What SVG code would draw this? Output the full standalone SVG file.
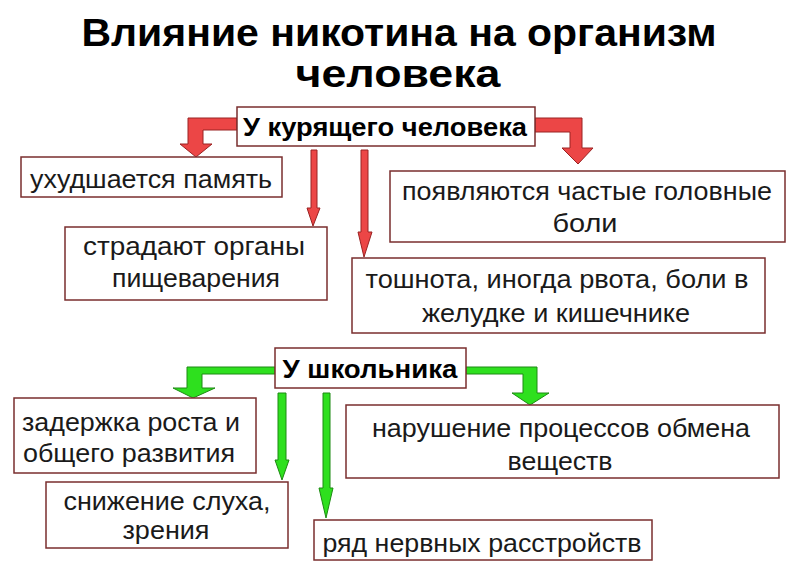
<svg xmlns="http://www.w3.org/2000/svg" width="800" height="574" viewBox="0 0 800 574">
<style>
.box{fill:#ffffff;stroke:#7a2e2e;stroke-width:1.5}
.t{font-family:"Liberation Sans",Arial,sans-serif;font-size:26px;fill:#1a1a1a;text-anchor:middle}
.h{font-family:"Liberation Sans",Arial,sans-serif;font-size:26px;font-weight:bold;fill:#000;text-anchor:middle}
.title{font-family:"Liberation Sans Narrow","Liberation Sans",Arial,sans-serif;font-size:38px;font-weight:bold;fill:#000;text-anchor:middle}
.red{fill:#ec4646;stroke:#9a2222;stroke-width:1}
.green{fill:#2ee01e;stroke:#1d8a12;stroke-width:1}
</style>
<rect width="800" height="574" fill="#ffffff"/>
<g id="title">
<text class="title" x="399" y="46" textLength="635" lengthAdjust="spacingAndGlyphs">Влияние никотина на организм</text>
<text class="title" x="398" y="87" textLength="205" lengthAdjust="spacingAndGlyphs">человека</text>
</g>
<g id="connectors">
<path class="red" d="M237,118 H188 V144 H180 L196,157 L212,144 H203 V130 H237 Z"/>
<path class="red" d="M535,118 H582 V148 H593 L578,164 L562,148 H570 V132 H535 Z"/>
<path class="red" d="M311,150 H317 V208 H320 L313,226 L307,208 H311 Z"/>
<path class="red" d="M361,150 H368 V232 H372 L364,257 L358,232 H361 Z"/>
<path class="green" d="M275,367 H187 V388 H173 L193,398 L215,388 H202 V374 H275 Z"/>
<path class="green" d="M466,367 H537 V393 H549 L530,405 L512,393 H523 V374 H466 Z"/>
<path class="green" d="M278,393 H286 V460 H289 L282,480 L275,460 H278 Z"/>
<path class="green" d="M323,393 H330 V488 H333 L326,518 L319,488 H323 Z"/>
</g>
<g id="smoker">
<rect class="box" x="237" y="107" width="298" height="39"/>
<text class="h" x="385" y="136" textLength="284" lengthAdjust="spacingAndGlyphs">У курящего человека</text>
</g>
<g id="memory">
<rect class="box" x="21" y="157" width="261" height="40"/>
<text class="t" x="151" y="188" textLength="242" lengthAdjust="spacingAndGlyphs">ухудшается память</text>
</g>
<g id="digestion">
<rect class="box" x="65" y="227" width="262" height="73"/>
<text class="t" x="194" y="255" textLength="222" lengthAdjust="spacingAndGlyphs">страдают  органы</text>
<text class="t" x="196" y="287" textLength="168" lengthAdjust="spacingAndGlyphs">пищеварения</text>
</g>
<g id="headache">
<rect class="box" x="390" y="171" width="395" height="71"/>
<text class="t" x="587" y="200" textLength="370" lengthAdjust="spacingAndGlyphs">появляются частые головные</text>
<text class="t" x="585" y="232" textLength="65" lengthAdjust="spacingAndGlyphs">боли</text>
</g>
<g id="nausea">
<rect class="box" x="352" y="258" width="413" height="75"/>
<text class="t" x="557" y="288" textLength="383" lengthAdjust="spacingAndGlyphs">тошнота, иногда рвота, боли в</text>
<text class="t" x="556" y="322" textLength="268" lengthAdjust="spacingAndGlyphs">желудке и кишечнике</text>
</g>
<g id="schoolchild">
<rect class="box" x="275" y="348" width="191" height="40"/>
<text class="h" x="370" y="378" textLength="175" lengthAdjust="spacingAndGlyphs">У школьника</text>
</g>
<g id="growth">
<rect class="box" x="14" y="398" width="242" height="75"/>
<text class="t" x="131" y="431" textLength="218" lengthAdjust="spacingAndGlyphs">задержка роста и</text>
<text class="t" x="129" y="462" textLength="212" lengthAdjust="spacingAndGlyphs">общего развития</text>
</g>
<g id="hearing">
<rect class="box" x="46" y="482" width="242" height="66"/>
<text class="t" x="167" y="510" textLength="207" lengthAdjust="spacingAndGlyphs">снижение слуха,</text>
<text class="t" x="166" y="539" textLength="87" lengthAdjust="spacingAndGlyphs">зрения</text>
</g>
<g id="metabolism">
<rect class="box" x="346" y="405" width="433" height="73"/>
<text class="t" x="561" y="437" textLength="378" lengthAdjust="spacingAndGlyphs">нарушение процессов обмена</text>
<text class="t" x="560" y="470" textLength="105" lengthAdjust="spacingAndGlyphs">веществ</text>
</g>
<g id="nervous">
<rect class="box" x="314" y="520" width="338" height="40"/>
<text class="t" x="482" y="552" textLength="319" lengthAdjust="spacingAndGlyphs">ряд нервных расстройств</text>
</g>
</svg>
